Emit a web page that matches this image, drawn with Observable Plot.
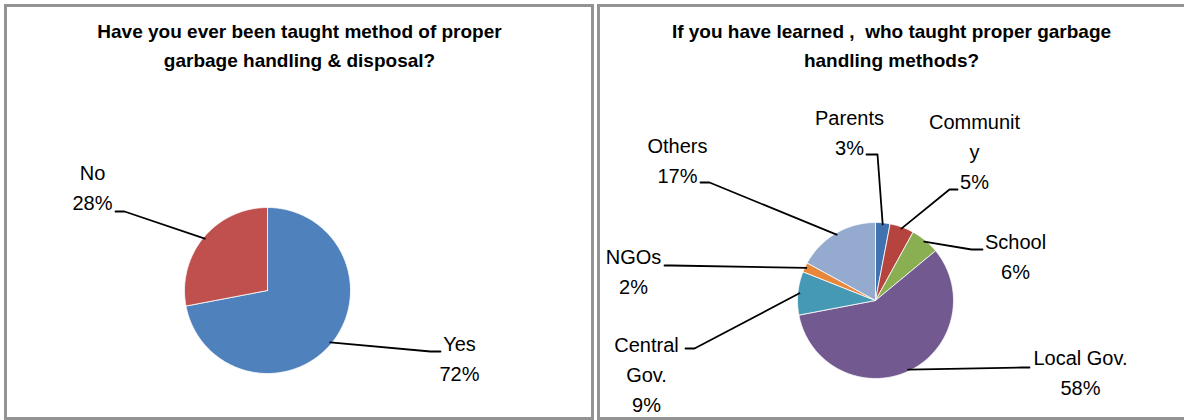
<!DOCTYPE html>
<html><head><meta charset="utf-8">
<script src="https://cdn.jsdelivr.net/npm/d3@7"></script>
<script src="https://cdn.jsdelivr.net/npm/@observablehq/plot@0.6"></script>
<style>
body{margin:0;background:#fff;}
#wrap{position:relative;width:1184px;height:420px;overflow:hidden;background:#fff;}
.panel{position:absolute;border:3px solid #939393;box-sizing:border-box;pointer-events:none;}
#chart{position:absolute;left:0;top:0;}
</style></head><body>
<div id="wrap"><div id="chart"></div>
<div class="panel" style="left:4px;top:4px;width:590px;height:416px;"></div>
<div class="panel" style="left:597px;top:4px;width:620px;height:416px;"></div>
</div>
<script>
// ---- data ----
const q1Title = "Have you ever been taught method of proper\ngarbage handling & disposal?";
const q1Categories = ["Yes", "No"];
const q1Values = [72, 28];
const q1Labels = ["Yes\n72%", "No\n28%"];

const q2Title = "If you have learned ,  who taught proper garbage\nhandling methods?";
const q2Categories = ["Parents", "Community", "School", "Local Gov.", "Central Gov.", "NGOs", "Others"];
const q2Values = [3, 5, 6, 58, 9, 2, 17];
const q2Labels = ["Parents\n3%", "Communit\ny\n5%", "School\n6%", "Local Gov.\n58%", "Central\nGov.\n9%", "NGOs\n2%", "Others\n17%"];

// ---- styles / layout ----
const q1Colors = ["#4F81BD", "#C0504D"];
const q2Colors = ["#3F72AF", "#B5443F", "#8AAF53", "#725A90", "#4599B4", "#E8873A", "#94AACF"];
const pie1 = {cx: 267, cy: 290, r: 83, titleX: 299};
const pie2 = {cx: 875, cy: 300, r: 78, titleX: 891};
// label block centre (tx,ty), leader start (sx,sy), elbow x (ex)
const q1LabelLayout = [
  {tx: 459, ty: 356, sx: 440, sy: 351, ex: 430},
  {tx: 92, ty: 185, sx: 115, sy: 211, ex: 124}
];
const q2LabelLayout = [
  {tx: 849, ty: 130, sx: 866, sy: 154, ex: 877},
  {tx: 974, ty: 149, sx: 957, sy: 189, ex: 949},
  {tx: 1015, ty: 254, sx: 982, sy: 249, ex: 971},
  {tx: 1080, ty: 370, sx: 1029, sy: 367, ex: 1022},
  {tx: 646, ty: 372, sx: 685, sy: 348, ex: 694},
  {tx: 633, ty: 269, sx: 664, sy: 265, ex: 671},
  {tx: 677, ty: 158, sx: 700, sy: 182, ex: 709}
];

// ---- geometry from data ----
function pieGeometry(cats, vals, labels, layout, pie) {
  const total = d3.sum(vals);
  const slicePts = [], leaderPts = [], labelRows = [];
  let acc = 0;
  cats.forEach((c, i) => {
    const a0 = acc / total * 2 * Math.PI;
    acc += vals[i];
    const a1 = acc / total * 2 * Math.PI;
    slicePts.push({key: c, x: pie.cx, y: pie.cy});
    const n = Math.max(2, Math.ceil((a1 - a0) / (Math.PI / 180)));
    for (let k = 0; k <= n; k++) {
      const a = a0 + (a1 - a0) * k / n;
      slicePts.push({key: c, x: pie.cx + pie.r * Math.sin(a), y: pie.cy - pie.r * Math.cos(a)});
    }
    slicePts.push({key: c, x: pie.cx, y: pie.cy});
    const am = (a0 + a1) / 2;
    const L = layout[i];
    leaderPts.push({key: c, x: L.sx, y: L.sy});
    leaderPts.push({key: c, x: L.ex, y: L.sy});
    leaderPts.push({key: c, x: pie.cx + pie.r * 0.98 * Math.sin(am), y: pie.cy - pie.r * 0.98 * Math.cos(am)});
    labelRows.push({key: c, x: L.tx, y: L.ty, text: labels[i]});
  });
  return {slicePts, leaderPts, labelRows};
}

const g1 = pieGeometry(q1Categories, q1Values, q1Labels, q1LabelLayout, pie1);
const g2 = pieGeometry(q2Categories, q2Values, q2Labels, q2LabelLayout, pie2);
const titles = [
  {x: pie1.titleX, y: 43, text: q1Title},
  {x: pie2.titleX, y: 43, text: q2Title}
];

const chart = Plot.plot({
  width: 1184, height: 420, margin: 0,
  style: {fontFamily: "'Liberation Sans', Arial, sans-serif", background: "transparent"},
  x: {domain: [0, 1184], axis: null},
  y: {domain: [0, 420], reverse: true, axis: null},
  color: {domain: [...q1Categories, ...q2Categories], range: [...q1Colors, ...q2Colors]},
  marks: [
    Plot.line([...g1.slicePts, ...g2.slicePts], {x: "x", y: "y", z: "key", fill: "key", stroke: "white", strokeWidth: 0.8, curve: "linear"}),
    Plot.line([...g1.leaderPts, ...g2.leaderPts], {x: "x", y: "y", z: "key", stroke: "black", strokeWidth: 1.8, curve: "linear"}),
    Plot.text([...g1.labelRows, ...g2.labelRows], {x: "x", y: "y", text: "text", fontSize: 20, lineHeight: 1.5, textAnchor: "middle", lineAnchor: "middle", fill: "black"}),
    Plot.text(titles, {x: "x", y: "y", text: "text", fontSize: 19, fontWeight: "bold", lineHeight: 1.53, textAnchor: "middle", lineAnchor: "middle", fill: "black"})
  ]
});
document.getElementById("chart").appendChild(chart);
</script>
</body></html>
